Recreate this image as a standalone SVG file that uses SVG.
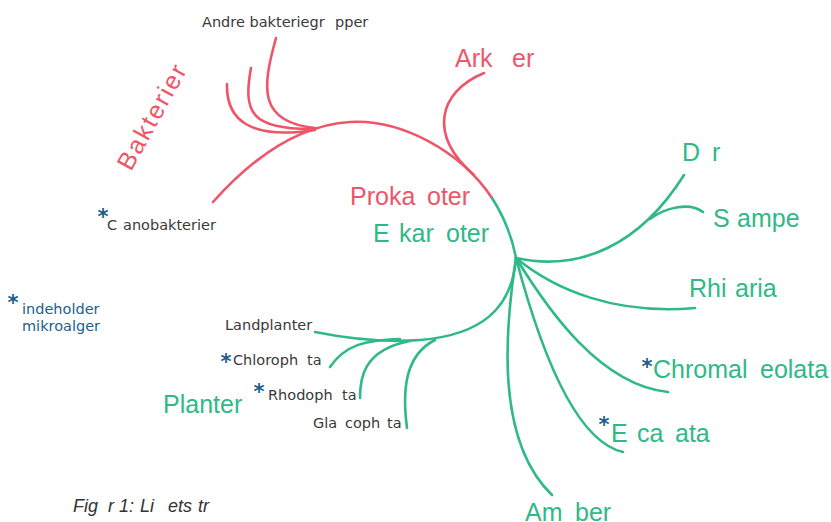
<svg xmlns="http://www.w3.org/2000/svg" width="831" height="522" viewBox="0 0 831 522">
<style>
.r{fill:none;stroke:#EF5568;stroke-width:2.6;stroke-linecap:round}
.g{fill:none;stroke:#2FB987;stroke-width:2.6;stroke-linecap:round}
.big{font-family:"Liberation Sans",Arial,sans-serif;font-size:25px}
.red{fill:#EF5568}
.grn{fill:#2FB987}
.sm{font-family:"DejaVu Sans",sans-serif;font-size:14.5px;fill:#3a3a3a}
.blue{fill:#1E5F8A}
.ast{font-family:"DejaVu Sans",sans-serif;font-size:21px;font-weight:bold;fill:#1E5F8A;text-anchor:middle}
.cap{font-family:"Liberation Sans",Arial,sans-serif;font-size:18px;font-style:italic;fill:#333}
</style>
<rect width="831" height="522" fill="#fff"/>
<g id="connectors">
<path class="r" d="M213,202 C255,155 300,125 350,122 S460,150 492,198"/>
<path class="r" d="M276,38 C262,88 258,122 315,128"/>
<path class="r" d="M251,68 C243,112 250,130 315,129"/>
<path class="r" d="M227,84 C226,120 250,140 315,130"/>
<path class="r" d="M484,73 C438,92 428,135 474,175"/>
<path class="g" d="M492,198 C503,215 512,237 516,258"/>
<path class="g" d="M516,258 C580,272 640,245 684,175"/>
<path class="g" d="M650,219 C666,207 690,202 703,212"/>
<path class="g" d="M516,258 C555,290 615,315 695,308"/>
<path class="g" d="M516,258 C548,310 600,385 668,392"/>
<path class="g" d="M516,258 C535,330 570,440 623,452"/>
<path class="g" d="M516,258 C505,330 495,440 552,495"/>
<path class="g" d="M516,258 C512,310 480,335 420,340 C380,343 345,338 315,332"/>
<path class="g" d="M330,367 C345,345 365,340 400,339"/>
<path class="g" d="M360,398 C360,380 362,350 410,341"/>
<path class="g" d="M407,428 C402,390 405,355 435,340"/>
</g>
<g id="andre-bakteriegrupper"><text class="sm" y="27"><tspan x="202">Andre bakteriegr</tspan><tspan x="335">pper</tspan></text></g>
<g id="bakterier"><text class="big red" transform="translate(131,172) rotate(-61)" letter-spacing="2">Bakterier</text></g>
<g id="cyanobakterier"><text class="ast" x="103" y="224">*</text><text class="sm" y="230"><tspan x="107">C</tspan><tspan x="123">anobakterier</tspan></text></g>
<g id="legend"><text class="ast" x="13" y="310">*</text><text class="sm blue" x="22" y="314">indeholder</text><text class="sm blue" x="22" y="331">mikroalger</text></g>
<g id="arkaeer"><text class="big red" y="67"><tspan x="455">Ark</tspan><tspan x="512">er</tspan></text></g>
<g id="prokaryoter"><text class="big red" y="205"><tspan x="350">Proka</tspan><tspan x="427">oter</tspan></text></g>
<g id="eukaryoter"><text class="big grn" y="242"><tspan x="373">E</tspan><tspan x="399">kar</tspan><tspan x="446">oter</tspan></text></g>
<g id="dyr"><text class="big grn" y="161"><tspan x="682">D</tspan><tspan x="712">r</tspan></text></g>
<g id="svampe"><text class="big grn" y="227"><tspan x="713">S</tspan><tspan x="737">ampe</tspan></text></g>
<g id="rhizaria"><text class="big grn" y="297"><tspan x="689">Rhi</tspan><tspan x="735">aria</tspan></text></g>
<g id="chromalveolata"><text class="ast" x="647" y="374">*</text><text class="big grn" y="378"><tspan x="653">Chromal</tspan><tspan x="760">eolata</tspan></text></g>
<g id="excavata"><text class="ast" x="604" y="432">*</text><text class="big grn" y="442"><tspan x="611">E</tspan><tspan x="637">ca</tspan><tspan x="675">ata</tspan></text></g>
<g id="amoeber"><text class="big grn" y="521"><tspan x="525">Am</tspan><tspan x="575">ber</tspan></text></g>
<g id="landplanter"><text class="sm" x="225" y="330">Landplanter</text></g>
<g id="chlorophyta"><text class="ast" x="226" y="369">*</text><text class="sm" y="365"><tspan x="233">Chloroph</tspan><tspan x="307">ta</tspan></text></g>
<g id="rhodophyta"><text class="ast" x="259" y="399">*</text><text class="sm" y="400"><tspan x="268">Rhodoph</tspan><tspan x="342">ta</tspan></text></g>
<g id="glaucophyta"><text class="sm" y="428"><tspan x="313">Gla</tspan><tspan x="345">coph</tspan><tspan x="387">ta</tspan></text></g>
<g id="planter"><text class="big grn" x="163" y="413">Planter</text></g>
<g id="caption"><text class="cap" y="512"><tspan x="73">Fig</tspan><tspan x="108">r</tspan><tspan x="119">1:</tspan><tspan x="140">Li</tspan><tspan x="168">ets</tspan><tspan x="198">tr</tspan></text></g>
</svg>
